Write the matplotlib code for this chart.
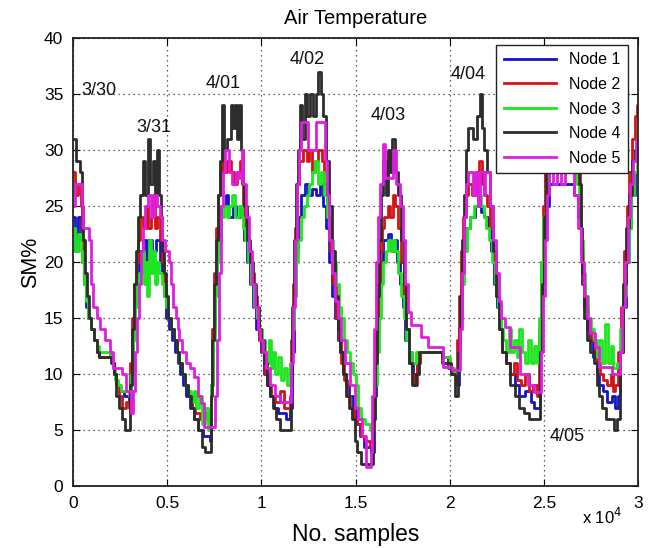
import matplotlib
matplotlib.use("Agg")
import matplotlib.pyplot as plt
from matplotlib.ticker import FuncFormatter, MultipleLocator

plt.rcParams['font.family'] = ['Liberation Sans', 'DejaVu Sans']

# Step breakpoints (sample index, temperature) for each node
node1 = [(0,24),(100,21),(250,24),(400,22),(500,20),(600,18),(700,16),(800,15),(950,14),(1100,13),(1250,12),(1400,11.5),(2000,11),(2150,10),(2300,9),(2500,8.5),(2700,8),(2950,7.5),
         (3100,10),(3200,14),(3300,17),(3400,19),(3500,21),(3700,22),(3850,20),(4000,22),(4200,21),(4400,22),(4600,20),(4750,19),(4850,17),(4950,15),(5100,14),(5250,13),(5400,12),(5550,11),(5700,10),(5850,9),(6000,8),(6200,7),(6400,6),(6650,5),(6900,4.5),(7250,4),
         (7350,9),(7450,14),(7550,18),(7650,21),(7750,23),(7850,25),(8100,26),(8250,24),(8500,25),(8650,24),(8850,25),(9000,24),(9100,22),(9250,20),(9400,18),(9550,16),(9700,14),(9850,13),(10000,12),(10150,10),(10300,9),(10450,8),(10650,7),(10900,6.5),(11300,6),(11500,7),
         (11650,12),(11750,17),(11850,21),(11950,24),(12100,26),(12300,27),(12500,26),(12700,26.5),(12900,26),(13100,27),(13300,25),(13450,23),(13600,20),(13750,17),(13900,15),(14050,13),(14200,12),(14350,10),(14500,9),(14650,8),(14850,7),(15050,5.5),(15250,4.5),(15450,3.5),(15800,3),
         (16000,8),(16100,13),(16200,17),(16300,20),(16450,22),(16700,22.5),(16900,21),(17100,22),(17200,20),(17350,18),(17500,16),(17650,13),(17850,11),(18050,10),(18250,11),(18400,12),(19600,11.5),(19900,10.5),(20150,10),(20400,9),
         (20500,14),(20600,18),(20700,21),(20850,23),(21100,24),(21350,25),(21650,24.5),(21850,24),(22050,23),(22200,21),(22350,18),(22500,16),(22650,14),(22800,12),(23000,11),(23200,10),(23450,9),(23700,8),(24000,8.5),(24300,7.5),(24500,7),
         (24800,13),(24900,18),(25000,22),(25100,25),(25250,27),(26000,27),(26600,26),(26800,24),(26950,21),(27050,18),(27150,16),(27300,14),(27450,13),(27600,11.5),(27800,10),(27950,9),(28150,8.5),(28350,7.5),(28600,8),(28800,7),(28950,8),
         (29050,12),(29200,16),(29350,20),(29500,23),(29650,26),(29850,28),(30000,28)]

node2 = [(0,28),(100,26),(250,27),(400,25),(500,22),(600,19),(700,17),(800,15),(950,14),(1100,13),(1250,12),(1400,11.5),(1950,12),(2050,11),(2150,10),(2300,9),(2450,8),(2600,7),(2800,7.5),(2950,7),
         (3050,11),(3150,15),(3250,18),(3350,20),(3450,22),(3550,24),(3700,23),(3850,25),(4000,23),(4150,24),(4250,26),(4350,23),(4450,24),(4600,22),(4750,20),(4850,18),(4950,16),(5050,15),(5200,14),(5350,13),(5500,12),(5650,11),(5800,10),(5950,9),(6100,8),(6300,7),(6500,6.5),(6750,6),(7050,6.5),(7250,5.5),
         (7300,9),(7400,14),(7500,19),(7600,23),(7700,26),(7800,28),(7900,30),(8000,28),(8200,29),(8400,28),(8550,27),(8700,28),(8850,29),(8950,27),(9050,25),(9150,23),(9300,21),(9450,19),(9600,17),(9750,15),(9900,13),(10050,12),(10200,10),(10350,9),(10500,8),(10700,7.5),(11000,8.5),(11200,7),(11500,8),
         (11600,13),(11700,18),(11800,23),(11900,27),(12000,29),(12200,30),(12400,29),(12550,30),(12700,28),(12850,29),(13000,30),(13200,29),(13350,27),(13500,24),(13650,21),(13800,18),(13950,15),(14100,13),(14250,11),(14400,9.5),(14550,8),(14700,7),(14900,6),(15100,5.5),(15300,4.5),(15500,4),(15750,3.5),(15900,5),
         (16000,9),(16100,14),(16200,18),(16300,21),(16400,23),(16500,24),(16700,25),(16850,24),(17000,26),(17100,25),(17250,23),(17400,20),(17550,17),(17700,14),(17850,12),(18000,10),(18100,9),(18250,11),(18400,12),(19600,11.5),(19950,10.5),(20200,10),
         (20400,13),(20500,17),(20600,21),(20700,24),(20850,26),(21000,27),(21200,26),(21400,28),(21550,29),(21700,27),(21850,26),(22000,25),(22150,23),(22300,20),(22450,17),(22600,14),(22800,12),(23000,11),(23200,10),(23400,11),(23550,9.5),(23800,9),(24000,10),(24200,8.5),(24450,9),(24650,8),
         (24750,14),(24850,20),(24950,25),(25050,28),(25200,30),(25600,31),(26000,30),(26400,31),(26750,28),(26900,25),(27000,21),(27100,18),(27200,16),(27350,14),(27500,13),(27700,12),(27850,11),(28000,10),(28150,9.5),(28350,9),(28550,10),(28650,8.5),(28800,9),(28950,12),
         (29100,16),(29250,21),(29400,25),(29550,28),(29700,31),(29850,33),(29950,34),(30000,34)]

node3 = [(0,23),(100,21),(250,22.5),(400,21),(500,20),(600,18),(700,16.5),(800,15),(950,14),(1100,13),(1250,12.5),(1400,12),(1950,11.5),(2100,10.5),(2250,9.5),(2400,9),(2550,8.5),(2750,8.5),(2950,8),
         (3100,10),(3200,13),(3300,16),(3400,18),(3500,19),(3650,21),(3750,18),(3850,20),(3950,17),(4050,22),(4150,19),(4250,21),(4350,18),(4450,20),(4550,19),(4700,18),(4850,17),(4950,16),(5050,15),(5200,14),(5350,13),(5500,12),(5650,11),(5800,10),(5950,9),(6100,8.5),(6250,7.5),(6400,8.5),(6550,7),(6700,8),(6850,5.5),(7000,7),(7150,5),
         (7350,9),(7450,13),(7550,17),(7650,20),(7750,22),(7850,24),(8000,25),(8150,24),(8300,25),(8450,26),(8600,24),(8800,25),(8950,24),(9050,23),(9150,22),(9300,20),(9450,18),(9600,16),(9750,15),(9900,14),(10050,13),(10200,12),(10300,11),(10400,13),(10500,10.5),(10600,12),(10750,10),(10900,11.5),(11050,9.5),(11200,10.5),(11350,9),(11500,11),
         (11650,14),(11750,17),(11850,20),(11950,22),(12100,24),(12250,25),(12400,26),(12550,27),(12700,28),(12850,29),(13000,27),(13150,28),(13350,26),(13500,24),(13650,22),(13800,20),(13950,18),(14100,16),(14250,15),(14400,13),(14550,12),(14700,11),(14850,10),(15000,9),(15150,7),(15300,6),(15500,5.5),(15750,5),(15900,6),
         (16050,9),(16150,12),(16250,15),(16350,18),(16450,20),(16600,21),(16750,22),(16900,21),(17000,22),(17100,21),(17250,19),(17400,17),(17550,15),(17700,13),(17850,12),(18000,11),(18200,12),(19650,11.5),(20000,10.5),(20250,10),
         (20450,12),(20550,15),(20650,18),(20750,21),(20900,23),(21100,24),(21300,25),(21500,26),(21650,25),(21800,24),(21950,23),(22100,22),(22250,20),(22400,18),(22550,16),(22700,14),(22850,13),(23000,12),(23150,14),(23250,12),(23400,13),(23550,11.5),(23700,14),(23850,12),(24000,11),(24150,13),(24300,11),(24500,12.5),(24650,11),
         (24750,15),(24850,20),(24950,24),(25100,27),(25300,28),(26100,28.5),(26700,27),(26850,25),(27000,22),(27100,19),(27200,17),(27350,15),(27500,14),(27650,13),(27800,11.5),(27950,13),(28100,11),(28250,14.5),(28400,11),(28550,12.5),(28700,10.5),(28900,11),
         (29050,14),(29200,17),(29350,20),(29500,23),(29650,26),(29800,28),(29950,30),(30000,30)]

node4 = [(0,31),(150,29),(350,28),(450,25),(550,22),(650,19),(750,17),(850,15),(950,14),(1100,13),(1250,12),(1400,11.5),(2050,11),(2150,10),(2300,8),(2450,7),(2600,6),(2750,5),
         (3050,9),(3150,14),(3250,18),(3350,21),(3450,24),(3550,26),(3700,29),(3800,26),(4000,31),(4100,27),(4250,29),(4350,26),(4450,30),(4550,26),(4650,24),(4750,21),(4850,19),(4950,17),(5050,15),(5200,14),(5350,13),(5500,12),(5650,11),(5800,10),(5950,9),(6100,8),(6250,7),(6450,6),(6650,5),(6850,3.5),(7000,3),
         (7300,8),(7400,13),(7500,18),(7600,22),(7700,26),(7800,29),(7900,34),(8000,30),(8200,31),(8400,34),(8500,32),(8600,34),(8700,31),(8800,34),(8900,30),(9000,27),(9100,25),(9250,22),(9400,20),(9550,18),(9700,16),(9850,14),(10000,13),(10150,11),(10300,9),(10450,8),(10600,7),(10800,6),(11000,5),
         (11550,10),(11650,16),(11750,22),(11850,27),(11950,30),(12050,34),(12150,31),(12300,35),(12450,33),(12600,35),(12750,33),(12900,35),(13000,37),(13150,35),(13300,33),(13450,29),(13600,25),(13750,21),(13900,17),(14050,14),(14200,12),(14350,10),(14500,8),(14650,7),(14800,6),(14950,4),(15100,3),(15300,2),
         (15950,6),(16050,11),(16150,17),(16250,22),(16350,26),(16450,29),(16600,26),(16750,30),(16850,28),(16950,31),(17100,28),(17250,26),(17400,22),(17550,18),(17700,14),(17850,11),(18000,9),(18200,10),(18350,12),(19600,11),(20050,10),(20300,8),
         (20450,12),(20550,17),(20650,22),(20750,26),(20850,30),(21000,32),(21250,31),(21450,33),(21600,35),(21700,32),(21850,30),(22000,28),(22150,25),(22300,21),(22450,17),(22600,14),(22800,12),(23000,11),(23200,9),(23450,8),(23700,7),(23950,6.5),(24200,6),
         (24800,12),(24900,18),(25000,24),(25100,28),(25200,32),(25500,33),(25900,32),(26300,33),(26700,30),(26850,27),(26950,23),(27050,19),(27150,15),(27300,13),(27450,12),(27650,11),(27800,9),(27950,8),(28100,7),(28300,6),(28600,6),(28750,5),(28900,6),
         (29050,12),(29200,18),(29350,23),(29500,26),(29700,29),(29850,30),(30000,30)]

node5 = [(0,25),(100,27),(450,25),(550,23),(850,22),(950,18),(1050,16),(1250,15),(1450,14),(1700,13),(1950,12),(2100,10.5),(2600,10),(2800,8.5),(3100,6.5),(3200,8.5),
         (3300,12),(3400,15),(3500,18),(3600,21),(3700,23),(3800,25),(4000,26),(4150,24),(4300,26),(4450,25),(4600,24),(4750,22),(4900,21),(5100,20),(5200,18),(5300,16),(5450,15),(5550,14),(5650,13),(5800,12),(6000,11),(6200,10.5),(6400,9.7),(6650,8),(6800,7.4),(6950,5.3),
         (7550,8),(7650,13),(7750,19),(7850,25),(7950,28),(8050,30),(8300,28),(8450,27),(8650,28),(8800,27.5),(8950,30),(9050,27),(9200,24),(9350,21),(9500,18),(9650,16),(9800,14),(9950,13),(10100,12),(10250,10.5),(10450,9),(10750,8),(11000,7.5),(11500,7.5),
         (11600,11),(11700,16),(11800,22),(11900,27),(12000,30),(12100,32.5),(12500,30),(12900,32.5),(13400,29),(13500,26),(13600,22),(13750,19),(13900,16.5),(14050,15),(14250,13),(14450,11),(14700,9),(14950,7),(15150,6),(15350,4.5),(15550,1.7),(15800,3),
         (15900,8),(16000,14),(16100,20),(16200,24),(16300,27),(16450,30.5),(16550,27.5),(16900,27.5),(17000,30),(17150,27),(17350,25),(17500,22),(17650,18),(17800,15.5),(17950,14.4),(18500,13.3),(18850,12.4),(19650,10.6),(20100,10.4),
         (20550,14),(20650,19),(20750,24),(20850,27),(20950,28),(21250,26),(21350,28),(21500,25),(21600,28),(21800,26),(21900,28),(22150,25),(22300,22),(22450,19),(22600,16.5),(22750,15),(22950,14.2),(23200,12.4),(23750,10),(24150,9),(24500,8.4),
         (24850,12),(24950,17),(25050,22),(25150,26),(25250,29),(25400,30),(25500,27),(25700,30),(25900,27),(26100,30),(26300,28),(26600,26),(26800,23),(27000,20),(27150,17),(27300,15),(27450,13.7),(27700,12.4),(27950,10.6),(28600,10),(29050,12),
         (29150,16),(29300,20),(29450,24),(29600,27),(29750,29),(29900,31),(30000,31)]

series = [("Node 1", node1, "#1414c8"),
          ("Node 2", node2, "#d21414"),
          ("Node 3", node3, "#1ee61e"),
          ("Node 4", node4, "#2d2d2d"),
          ("Node 5", node5, "#e01ee0")]

# Day labels placed near each daily peak/trough (x in samples, y in SM%)
day_labels = ["3/30", "3/31", "4/01", "4/02", "4/03", "4/04", "4/05"]
day_x = [430, 4300, 8000, 12450, 16750, 21000, 26250]
day_y = [35.3, 32.0, 35.9, 38.1, 33.1, 36.7, 4.4]

fig = plt.figure(figsize=(6.55, 5.48), dpi=100)
ax = fig.add_axes([0.1115, 0.113, 0.8625, 0.8177])

for name, pts, col in series:
    xs = [p[0] for p in pts]
    ys = [p[1] for p in pts]
    ax.plot(xs, ys, drawstyle="steps-post", color=col, lw=2.0, label=name)

ax.set_xlim(0, 30000)
ax.set_ylim(0, 40)
ax.xaxis.set_major_locator(MultipleLocator(5000))
ax.yaxis.set_major_locator(MultipleLocator(5))
ax.xaxis.set_major_formatter(FuncFormatter(lambda v, p: f"{v/1e4:g}"))
ax.grid(True, color="#333333", linestyle=(0, (1, 3)), linewidth=0.9)
ax.tick_params(direction="in", top=True, right=True, labelsize=12.5, length=5, pad=7)
for s in ax.spines.values():
    s.set_linewidth(1.3)
    s.set_color("#222222")

for t, x, y in zip(day_labels, day_x, day_y):
    ha = "left" if t == "3/30" else "center"
    ax.text(x, y, t, fontsize=13, ha=ha, va="center", color="#111111")

ax.set_title("Air Temperature", fontsize=14.5, pad=10)
ax.set_xlabel("No. samples", fontsize=16.5, labelpad=9)
ax.set_ylabel("SM%", fontsize=15.5, labelpad=2)
fig.text(0.95, 0.056, r"x 10$^{4}$", fontsize=12, ha="right", va="center")

leg = ax.legend(loc="upper right", fontsize=11.5, frameon=True, fancybox=False,
                edgecolor="#222222", framealpha=1.0, borderpad=0.45,
                handlelength=3.3, labelspacing=0.6, borderaxespad=0.0,
                bbox_to_anchor=(0.982, 0.984))
leg.get_frame().set_linewidth(1.0)

fig.savefig("out.png", dpi=100)
